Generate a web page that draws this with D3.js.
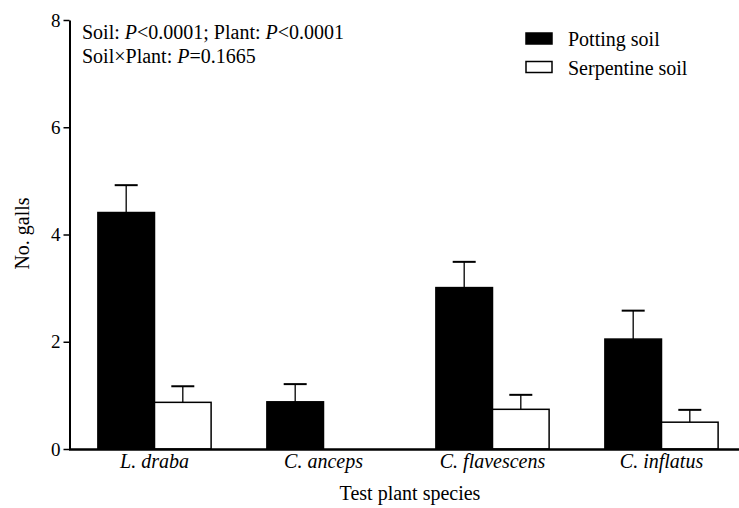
<!DOCTYPE html>
<html>
<head>
<meta charset="utf-8">
<script src="https://cdn.jsdelivr.net/npm/d3@7"></script>
<style>
  html, body { margin: 0; padding: 0; background: #fff; }
  svg { display: block; }
  svg text { font-family: "Liberation Serif", "Times New Roman", Times, serif; fill: #000; }
</style>
</head>
<body>
<svg id="chart" width="739" height="508"></svg>
<script>
// Mean number of galls per test plant species, by soil type (with SE)
const species = ["L. draba", "C. anceps", "C. flavescens", "C. inflatus"];
const soils = ["Potting soil", "Serpentine soil"];
const pottingMean = [4.41, 0.88, 3.01, 2.05];
const pottingSE = [0.51, 0.33, 0.48, 0.53];
const serpentineMean = [0.87, 0, 0.74, 0.50];
const serpentineSE = [0.30, 0, 0.27, 0.23];
const yTicks = [0, 2, 4, 6, 8];

const FONT = "Liberation Serif";
const svg = d3.select("#chart");
const margin = { left: 70, right: 0, top: 20, bottom: 59 };
const width = 739, height = 508;

const x0 = d3.scaleBand().domain(species)
  .range([margin.left, margin.left + 676]).paddingInner(0.33).paddingOuter(0.165);
const x1 = d3.scaleBand().domain(soils).range([0, x0.bandwidth()]);
const y = d3.scaleLinear().domain([0, 8]).range([height - margin.bottom, margin.top]);

const fills = { "Potting soil": "#000", "Serpentine soil": "#fff" };

const rows = species.map((s, i) => ({
  species: s,
  bars: [
    { soil: "Potting soil", mean: pottingMean[i], se: pottingSE[i] },
    { soil: "Serpentine soil", mean: serpentineMean[i], se: serpentineSE[i] }
  ]
}));

const groups = svg.append("g").selectAll("g").data(rows).join("g")
  .attr("transform", d => `translate(${x0(d.species)},0)`);

const bars = groups.selectAll("g.bar").data(d => d.bars.filter(b => b.mean > 0)).join("g").attr("class", "bar");

// error bars (upper whisker only, drawn behind the bars)
const cx = d => x1(d.soil) + x1.bandwidth() / 2;
bars.append("line")
  .attr("x1", cx).attr("x2", cx)
  .attr("y1", d => y(d.mean))
  .attr("y2", d => y(d.mean + d.se))
  .attr("stroke", "#000").attr("stroke-width", 1.3);
bars.append("line")
  .attr("x1", d => cx(d) - 11.5)
  .attr("x2", d => cx(d) + 11.5)
  .attr("y1", d => y(d.mean + d.se))
  .attr("y2", d => y(d.mean + d.se))
  .attr("stroke", "#000").attr("stroke-width", 2);

bars.append("rect")
  .attr("x", d => x1(d.soil))
  .attr("width", x1.bandwidth())
  .attr("y", d => y(d.mean))
  .attr("height", d => y(0) - y(d.mean))
  .attr("fill", d => fills[d.soil])
  .attr("stroke", "#000").attr("stroke-width", 1.5);

// y axis
const yAxis = svg.append("g")
  .attr("transform", `translate(${margin.left - 0.5},0)`)
  .call(d3.axisLeft(y).tickValues(yTicks).tickSize(6).tickPadding(3).tickSizeOuter(0));
yAxis.attr("font-family", FONT);
yAxis.select(".domain").attr("stroke-width", 2);
yAxis.selectAll(".tick line").attr("stroke-width", 1.5);
yAxis.selectAll(".tick text").attr("font-size", 19).attr("font-family", FONT);

// x axis baseline and species labels
const xAxis = svg.append("g")
  .attr("transform", `translate(0,${y(0)})`)
  .call(d3.axisBottom(x0).tickSize(0).tickPadding(5));
xAxis.attr("font-family", FONT);
xAxis.select(".domain").attr("d", `M${margin.left - 1},0.5H739`).attr("stroke-width", 2.5);
xAxis.selectAll(".tick text").attr("font-size", 20).attr("font-style", "italic").attr("font-family", FONT);

// axis titles
svg.append("text").attr("x", 410).attr("y", 500)
  .attr("text-anchor", "middle").attr("font-size", 20).attr("font-family", FONT).text("Test plant species");
svg.append("text").attr("transform", "translate(28.5,233.5) rotate(-90)")
  .attr("text-anchor", "middle").attr("font-size", 20).attr("font-family", FONT).text("No. galls");

// statistics annotation
const ann = svg.append("g").attr("font-size", 20).attr("font-family", FONT);
const l1 = ann.append("text").attr("x", 82).attr("y", 39);
l1.append("tspan").text("Soil: ");
l1.append("tspan").attr("font-style", "italic").text("P");
l1.append("tspan").text("<0.0001; Plant: ");
l1.append("tspan").attr("font-style", "italic").text("P");
l1.append("tspan").text("<0.0001");
const l2 = ann.append("text").attr("x", 82).attr("y", 63);
l2.append("tspan").text("Soil\u00d7Plant: ");
l2.append("tspan").attr("font-style", "italic").text("P");
l2.append("tspan").text("=0.1665");

// legend
const legend = svg.append("g").selectAll("g").data(soils).join("g")
  .attr("transform", (d, i) => `translate(526,${33 + i * 28.5})`);
legend.append("rect").attr("width", 26).attr("height", 11)
  .attr("fill", d => fills[d]).attr("stroke", "#000").attr("stroke-width", 1.5);
legend.append("text").attr("x", 42).attr("y", 13).attr("font-size", 20).attr("font-family", FONT).text(d => d);
</script>
</body>
</html>
